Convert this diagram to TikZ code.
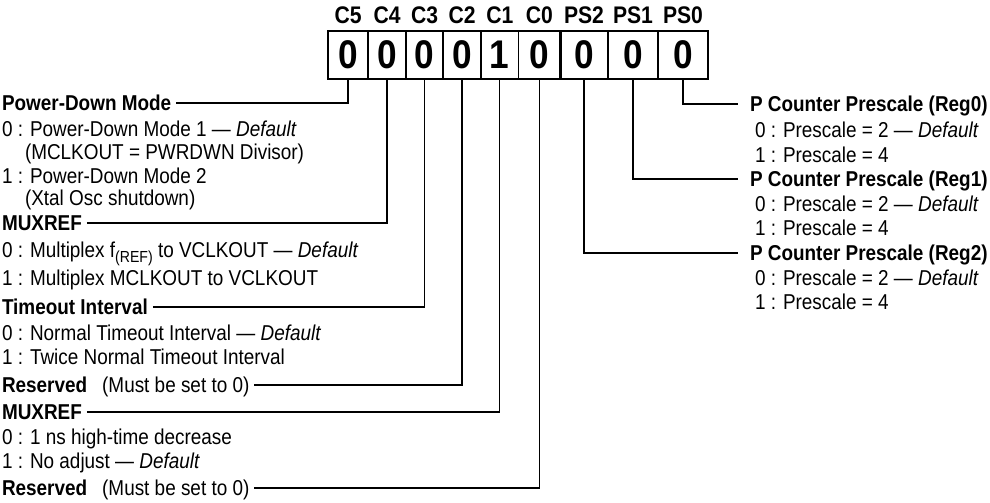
\documentclass[tikz,border=0pt]{standalone}
\usepackage{fontspec}
\setmainfont{Liberation Sans}[FakeStretch=0.88]
\tikzset{
  lbl/.style={anchor=west, inner sep=0pt, outer sep=0pt, text height=15pt, text depth=0pt, font=\fontsize{21.5}{24}\selectfont},
  ttl/.style={lbl, font=\fontsize{21.5}{24}\selectfont\bfseries},
  cell/.style={draw, line width=1.5pt, minimum height=48pt, inner sep=0pt, outer sep=0pt, font=\fontsize{40}{40}\selectfont\bfseries},
  bitname/.style={anchor=base, inner sep=0pt, font=\fontsize{24}{24}\selectfont\bfseries},
  wire/.style={line width=1.4pt},
}
\begin{document}
\begin{tikzpicture}[x=1pt,y=-1pt]
\useasboundingbox (0,0) rectangle (990,503);
% register cells
\node[cell, minimum width=40pt]   (c5)  at (348,55)    {0};
\node[cell, minimum width=38pt]   (c4)  at (387,55)    {0};
\node[cell, minimum width=37pt]   (c3)  at (424.5,55)  {0};
\node[cell, minimum width=38pt]   (c2)  at (462,55)    {0};
\node[cell, minimum width=37.5pt] (c1)  at (499.75,55) {1};
\node[cell, minimum width=41.5pt] (c0)  at (539.25,55) {0};
\node[cell, minimum width=48pt]   (ps2) at (584,55)    {0};
\node[cell, minimum width=50pt]   (ps1) at (633,55)    {0};
\node[cell, minimum width=50pt]   (ps0) at (683,55)    {0};
\draw[line width=2.2pt] (c5.north west) rectangle (ps0.south east);
\draw[line width=3pt] (c0.north east) -- (c0.south east);
% bit names
\node[bitname] (n5)  at (348,24)    {C5};
\node[bitname] (n4)  at (387,24)    {C4};
\node[bitname] (n3)  at (424.5,24)  {C3};
\node[bitname] (n2)  at (462,24)    {C2};
\node[bitname] (n1)  at (499.75,24) {C1};
\node[bitname] (n0)  at (539.25,24) {C0};
\node[bitname] (np2) at (584,24)    {PS2};
\node[bitname] (np1) at (633,24)    {PS1};
\node[bitname] (np0) at (683,24)    {PS0};
% left descriptions
\node[ttl] (pdm)  at (2,103) {Power-Down Mode};
\node[lbl] (pd0)  at (2,129) {0 : Power-Down Mode 1 — \textit{Default}};
\node[lbl] (pd0b) at (25,152) {(MCLKOUT = PWRDWN Divisor)};
\node[lbl] (pd1)  at (2,176) {1 : Power-Down Mode 2};
\node[lbl] (pd1b) at (25,198) {(Xtal Osc shutdown)};
\node[ttl] (mux)  at (2,223) {MUXREF};
\node[lbl] (mux0) at (2,250) {0 : Multiplex f\raisebox{-5pt}{\fontsize{16}{16}\selectfont(REF)} to VCLKOUT — \textit{Default}};
\node[lbl] (mux1) at (2,278) {1 : Multiplex MCLKOUT to VCLKOUT};
\node[ttl] (tmo)  at (2,307) {Timeout Interval};
\node[lbl] (tmo0) at (2,333) {0 : Normal Timeout Interval — \textit{Default}};
\node[lbl] (tmo1) at (2,357) {1 : Twice Normal Timeout Interval};
\node[ttl] (rsv1) at (2,385) {Reserved\hspace{15pt}\mdseries (Must be set to 0)};
\node[ttl] (mux2) at (2,412) {MUXREF};
\node[lbl] (mux20) at (2,437) {0 : 1 ns high-time decrease};
\node[lbl] (mux21) at (2,461) {1 : No adjust — \textit{Default}};
\node[ttl] (rsv0) at (2,488) {Reserved\hspace{15pt}\mdseries (Must be set to 0)};
% left connectors
\draw[wire] ([xshift=5pt]pdm.east)  -| (c5.south);
\draw[wire] ([xshift=5pt]mux.east)  -| (c4.south);
\draw[wire] ([xshift=5pt]tmo.east)  -| (c3.south);
\draw[wire] ([xshift=5pt]rsv1.east) -| (c2.south);
\draw[wire] ([xshift=5pt]mux2.east) -| (c1.south);
\draw[wire] ([xshift=5pt]rsv0.east) -| (c0.south);
% right descriptions
\node[ttl] (r0)  at (750,104) {P Counter Prescale (Reg0)};
\node[lbl] (r00) at (755,130) {0 : Prescale = 2 — \textit{Default}};
\node[lbl] (r01) at (755,155) {1 : Prescale = 4};
\node[ttl] (r1)  at (750,179) {P Counter Prescale (Reg1)};
\node[lbl] (r10) at (755,204) {0 : Prescale = 2 — \textit{Default}};
\node[lbl] (r11) at (755,228) {1 : Prescale = 4};
\node[ttl] (r2)  at (750,253) {P Counter Prescale (Reg2)};
\node[lbl] (r20) at (755,278) {0 : Prescale = 2 — \textit{Default}};
\node[lbl] (r21) at (755,302) {1 : Prescale = 4};
% right connectors
\draw[wire] (ps0.south) |- ([xshift=-12pt]r0.west);
\draw[wire] (ps1.south) |- ([xshift=-12pt]r1.west);
\draw[wire] (ps2.south) |- ([xshift=-12pt]r2.west);
\end{tikzpicture}
\end{document}
